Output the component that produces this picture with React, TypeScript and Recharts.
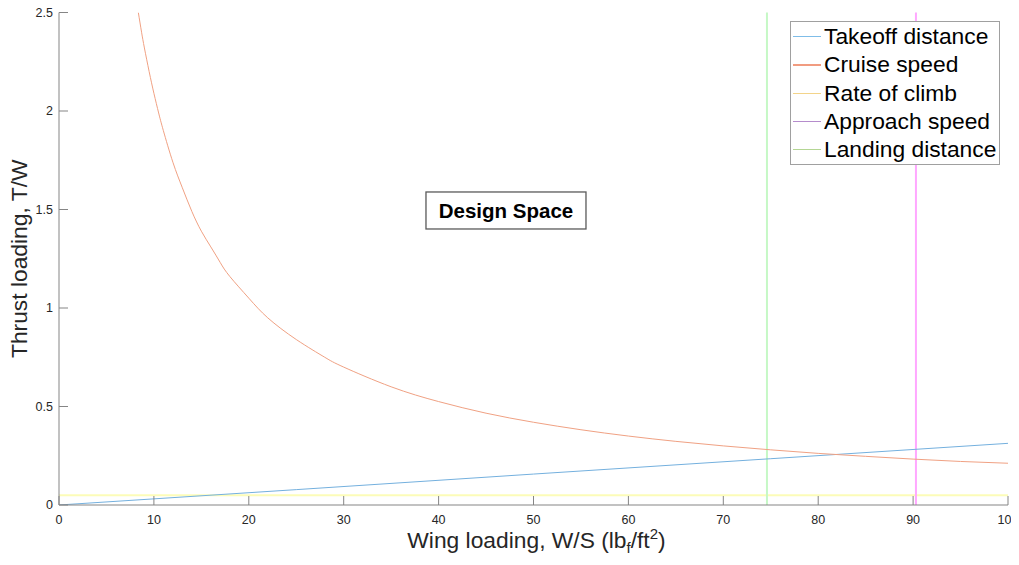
import React from 'react'
import { LineChart, Line, XAxis, YAxis, ReferenceLine, ReferenceDot, Label } from 'recharts'

const takeoffX = [0, 25, 50, 75, 100]
const takeoffY = [0, 0.078, 0.157, 0.235, 0.313]

const cruiseX = [8.36, 8.7, 9, 9.5, 10, 10.5, 11, 12, 13, 14, 15, 16, 17, 18, 20, 22, 25, 28, 30, 35, 40, 45, 50, 55, 60, 65, 70, 75, 80, 85, 90, 95, 100]
const cruiseY = [2.5, 2.4, 2.32, 2.2, 2.09, 1.99, 1.9, 1.74, 1.61, 1.49, 1.39, 1.31, 1.23, 1.16, 1.05, 0.95, 0.84, 0.75, 0.7, 0.6, 0.525, 0.466, 0.42, 0.382, 0.35, 0.323, 0.3, 0.28, 0.262, 0.247, 0.233, 0.221, 0.212]

const climbX = [0, 100]
const climbY = [0.05, 0.05]

const landingX = 74.6
const approachX = 90.3

const xTicks = [0, 10, 20, 30, 40, 50, 60, 70, 80, 90, 100]
const yTicks = [0, 0.5, 1, 1.5, 2, 2.5]

const legendNames = ['Takeoff distance', 'Cruise speed', 'Rate of climb', 'Approach speed', 'Landing distance']
const legendColors = ['#7fbde8', '#f19c80', '#f3d48a', '#b58ccc', '#b4d694']

const AXIS = '#858585'
const FONT = '"Liberation Sans", Arial, sans-serif'

const toPoints = (xs: number[], ys: number[]) => xs.map((x, i) => ({ x, y: ys[i] }))

const BottomTick = (props: any) => {
  const { x, y, payload } = props
  return (
    <g>
      <line x1={x} x2={x} y1={y} y2={y - 9} stroke={AXIS} />
      <text x={x} y={y + 19} textAnchor="middle" fontSize={12.5} fill="#262626" fontFamily={FONT}>
        {payload.value}
      </text>
    </g>
  )
}

const LeftTick = (props: any) => {
  const { x, y, payload } = props
  return (
    <g>
      <line x1={x} x2={x + 9} y1={y} y2={y} stroke={AXIS} />
      <text x={x - 6} y={y} dy="0.35em" textAnchor="end" fontSize={12.5} fill="#262626" fontFamily={FONT}>
        {payload.value}
      </text>
    </g>
  )
}

const TopTick = (props: any) => <line x1={props.x} x2={props.x} y1={props.y} y2={props.y + 9} stroke={AXIS} />
const RightTick = (props: any) => <line x1={props.x} x2={props.x - 9} y1={props.y} y2={props.y} stroke={AXIS} />

const XTitle = (props: any) => {
  const { x, width } = props.viewBox
  return (
    <text x={x + width / 2 + 3} y={540} textAnchor="middle" fontSize={22.8} fill="#262626" fontFamily={FONT}>
      Wing loading, W/S (lb
      <tspan fontSize={15} dy={5}>f</tspan>
      <tspan dy={-5}>/ft</tspan>
      <tspan fontSize={15} dy={-9}>2</tspan>
      <tspan dy={9}>)</tspan>
    </text>
  )
}

const YTitle = (props: any) => {
  const { y, height } = props.viewBox
  const cx = 19
  const cy = y + height / 2
  return (
    <text x={cx} y={cy} textAnchor="middle" transform={`rotate(-90 ${cx} ${cy})`} fontSize={22.8} fill="#262626" fontFamily={FONT}>
      Thrust loading, T/W
    </text>
  )
}

const DesignSpace = (props: any) => {
  const { cx, cy } = props
  return (
    <g>
      <rect x={cx - 80} y={cy - 18.5} width={160} height={37} fill="#fff" stroke="#5a5a5a" strokeWidth={1.3} />
      <text x={cx} y={cy} dy="0.36em" textAnchor="middle" fontSize={20.5} fontWeight="bold" fill="#000" fontFamily={FONT}>
        Design Space
      </text>
    </g>
  )
}

export default function App() {
  return (
    <div style={{ position: 'relative', width: 1011, height: 549 }}>
      <LineChart width={1011} height={549} margin={{ top: 4.5, right: 11, bottom: 0, left: 0 }}>
        <XAxis xAxisId="bottom" type="number" dataKey="x" domain={[0, 100]} ticks={xTicks} allowDataOverflow
          height={52} stroke={AXIS} tickSize={0} tickMargin={0} tick={<BottomTick />} interval={0}>
          <Label content={<XTitle />} />
        </XAxis>
        <XAxis xAxisId="top" orientation="top" type="number" dataKey="x" domain={[0, 100]} ticks={xTicks} allowDataOverflow
          height={0} stroke={AXIS} tickSize={0} tickMargin={0} tick={<TopTick />} interval={0} />
        <YAxis yAxisId="left" type="number" domain={[0, 2.5]} ticks={yTicks} allowDataOverflow
          width={51} stroke={AXIS} tickSize={0} tickMargin={0} tick={<LeftTick />} interval={0}>
          <Label content={<YTitle />} />
        </YAxis>
        <YAxis yAxisId="right" orientation="right" type="number" domain={[0, 2.5]} ticks={yTicks} allowDataOverflow
          width={0} stroke={AXIS} tickSize={0} tickMargin={0} tick={<RightTick />} interval={0} />

        <Line xAxisId="bottom" yAxisId="left" data={toPoints(climbX, climbY)} dataKey="y" stroke="#fcfcb8" strokeWidth={2}
          dot={false} isAnimationActive={false} />
        <ReferenceLine xAxisId="bottom" yAxisId="left" x={landingX} stroke="#c6f8c6" strokeWidth={2} />
        <ReferenceLine xAxisId="bottom" yAxisId="left" x={approachX} stroke="#ffa8ff" strokeWidth={2} />
        <Line xAxisId="bottom" yAxisId="left" data={toPoints(takeoffX, takeoffY)} dataKey="y" stroke="#74b0de" strokeWidth={1}
          dot={false} isAnimationActive={false} />
        <Line xAxisId="bottom" yAxisId="left" type="natural" data={toPoints(cruiseX, cruiseY)} dataKey="y" stroke="#f0a183"
          strokeWidth={1} dot={false} isAnimationActive={false} />
        <ReferenceDot xAxisId="bottom" yAxisId="left" x={47.1} y={1.495} shape={<DesignSpace />} />
      </LineChart>

      <div style={{
        position: 'absolute', left: 782, top: 12.7, width: 208, height: 142, background: '#fff',
        border: '1px solid #a0a0a0', fontFamily: FONT, fontSize: 22.8, color: '#000',
      }}>
        {legendNames.map((name, i) => (
          <div key={name} style={{ position: 'absolute', left: 0, top: 0.85 + i * 28.3, height: 28.3, display: 'flex', alignItems: 'center', whiteSpace: 'nowrap' }}>
            <span style={{ display: 'inline-block', width: 28, height: 1.2, background: legendColors[i], marginLeft: 2, marginRight: 3 }} />
            <span>{name}</span>
          </div>
        ))}
      </div>
    </div>
  )
}
